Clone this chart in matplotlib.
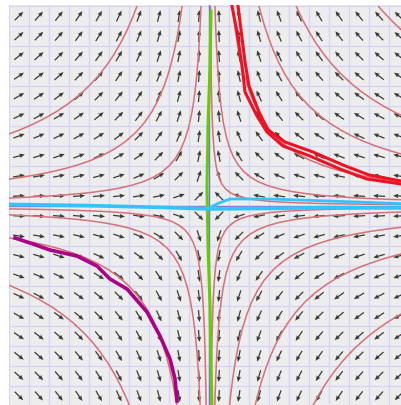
import numpy as np
import matplotlib.pyplot as plt

# saddle field: dx/dt = -x, dy/dt = y
rate_x = -1.0
rate_y = 1.0

# points on the thin pink trajectories
start_x = [-6.0, -3.67, -2.0, 0.84, 1.73, 3.4, 5.0, 6.6, 9.2,
           -1.2, -2.1, -4.0, -6.3, 1.0, 1.7, 3.2, 4.8, 7.2]
start_y = [6.0, 3.67, 2.0, 0.84, 1.73, 3.4, 5.0, 6.6, 9.2,
           -1.2, -2.1, -4.0, -6.3, -1.0, -1.7, -3.2, -4.8, -7.2]

# hand drawn trajectories
red_x1 = [1.15, 1.4, 1.65, 1.8, 2.4, 2.9, 3.7, 5.05, 6.55, 7.9, 9.6]
red_y1 = [10.0, 8.7, 7.0, 5.7, 4.5, 3.7, 3.0, 2.5, 1.85, 1.35, 1.1]
red_x2 = [1.45, 1.6, 1.8, 2.0, 2.5, 2.95, 3.8, 5.2, 6.7, 8.0, 9.6]
red_y2 = [10.0, 8.8, 7.2, 6.0, 4.7, 3.8, 3.2, 2.7, 2.05, 1.55, 1.25]

mag_x = [-9.7, -8.8, -7.95, -6.6, -5.6, -4.95, -4.1, -3.1, -2.45, -1.95, -1.7, -1.6]
mag_y = [-1.6, -1.9, -2.2, -2.5, -3.0, -3.65, -4.15, -5.3, -6.5, -7.65, -8.65, -9.75]

green_x = [0.1, 0.05, -0.05, -0.1, -0.05, 0.05, 0.1, 0.15]
green_y = [9.75, 7.0, 4.0, 1.0, -2.0, -5.0, -8.0, -10.0]

cyan_x1 = [-10.0, -6.0, -2.0, 0.0, 3.0, 6.0, 9.6]
cyan_y1 = [0.08, 0.02, -0.08, -0.15, -0.12, -0.08, -0.1]
cyan_x2 = [-0.1, 0.5, 1.05, 3.0, 6.0, 9.6]
cyan_y2 = [-0.15, 0.15, 0.35, 0.35, 0.25, 0.12]

fig = plt.figure(figsize=(4.01, 4.06), dpi=100)
ax = fig.add_axes([9 / 401, 0, 392 / 401, 400 / 406])
ax.set_facecolor("#ededed")
ax.set_xlim(-10, 9.6)
ax.set_ylim(-9.95, 10.05)

# grid
for k in range(-10, 11):
    ax.axvline(k, color="#d2d2fa", lw=0.9, zorder=0)
    ax.axhline(k, color="#d2d2fa", lw=0.9, zorder=0)

# arrows (unit length direction field)
cx = np.arange(-9.5, 10, 1.0)
X, Y = np.meshgrid(cx, cx)
U = rate_x * X
V = rate_y * Y
n = np.hypot(U, V)
ax.quiver(X, Y, U / n * 0.6, V / n * 0.6, angles="xy", scale_units="xy", scale=1,
          pivot="mid", color="#3a3a3a", width=0.0032, headwidth=3.6,
          headlength=4.2, headaxislength=3.8, zorder=2)

# pink trajectories
gx = np.linspace(-10, 10, 81)
GX, GY = np.meshgrid(gx, gx)
ax.streamplot(GX, GY, rate_x * GX, rate_y * GY,
              start_points=np.column_stack([start_x, start_y]),
              color="#d77078", linewidth=1.1, arrowstyle="-",
              broken_streamlines=False, maxlength=100, integration_direction="both",
              zorder=3)

# axis lines
ax.axvline(0, color="#7070ff", lw=1.0, zorder=3)
ax.axhline(0, color="#8a7ae8", lw=1.0, zorder=3)

ax.plot(red_x1, red_y1, color="#ee1122", lw=2.2, zorder=4)
ax.plot(red_x2, red_y2, color="#ee1122", lw=2.2, zorder=4)
ax.plot(mag_x, mag_y, color="#aa0088", lw=2.6, zorder=4)
ax.plot(green_x, green_y, color="#66cc00", lw=2.2, zorder=4)
ax.plot(cyan_x1, cyan_y1, color="#33c4ff", lw=2.6, zorder=4)
ax.plot(cyan_x2, cyan_y2, color="#33c4ff", lw=2.0, zorder=4)

ax.set_xticks([])
ax.set_yticks([])
for s in ax.spines.values():
    s.set_visible(False)

fig.savefig("out.png", dpi=100)
